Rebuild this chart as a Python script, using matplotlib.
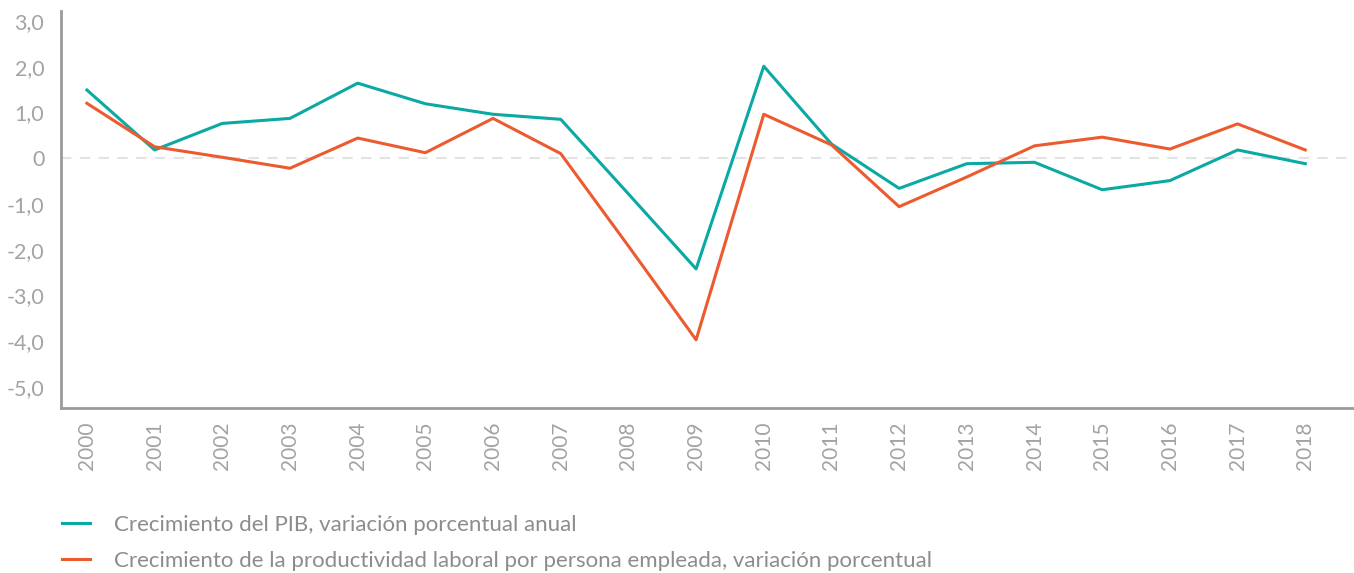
import numpy as np
import matplotlib.pyplot as plt
from matplotlib.lines import Line2D

years = list(range(2000, 2019))
pib = [1.49, 0.18, 0.76, 0.87, 1.64, 1.19, 0.96, 0.85, -0.78, -2.42,
       2.01, 0.31, -0.66, -0.12, -0.09, -0.69, -0.49, 0.18, -0.12]
productividad = [1.20, 0.25, 0.02, -0.22, 0.44, 0.12, 0.87, 0.10, -1.92, -3.97,
                 0.96, 0.29, -1.06, -0.41, 0.27, 0.46, 0.20, 0.75, 0.18]
yticks = [3, 2, 1, 0, -1, -2, -3, -4, -5]
ytick_labels = ["3,0", "2,0", "1,0", "0", "-1,0", "-2,0", "-3,0", "-4,0", "-5,0"]
legend_labels = ["Crecimiento del PIB, variación porcentual anual",
                 "Crecimiento de la productividad laboral por persona empleada, variación porcentual"]

teal = "#0aa9a3"
orange = "#ec5b30"
grey = "#a3a3a3"

plt.rcParams['font.family'] = ['Lato', 'DejaVu Sans']

fig = plt.figure(figsize=(13.54, 5.73), dpi=100)
ax = fig.add_axes([0.045, 0.288, 0.955, 0.693])

ax.axhline(0, color="#e3e3e3", lw=1.5, ls=(0, (5, 4)), zorder=1)
ax.plot(years, pib, color=teal, lw=2.2, zorder=3)
ax.plot(years, productividad, color=orange, lw=2.2, zorder=3)

ax.set_xlim(1999.616, 2018.72)
ax.set_ylim(-5.46, 3.22)
ax.set_xticks(years)
ax.set_xticklabels([str(y) for y in years], rotation=90, fontsize=15, color=grey)
ax.set_yticks(yticks)
ax.set_yticklabels(ytick_labels, fontsize=15.5, color=grey)
ax.tick_params(axis='both', length=0)
ax.tick_params(axis='x', pad=10)
ax.tick_params(axis='y', pad=12)

for s in ["top", "right"]:
    ax.spines[s].set_visible(False)
for s in ["left", "bottom"]:
    ax.spines[s].set_color("#9a9a9a")
    ax.spines[s].set_linewidth(2)

handles = [Line2D([], [], color=teal, lw=2.2), Line2D([], [], color=orange, lw=2.2)]
fig.legend(handles, legend_labels, loc="upper left", bbox_to_anchor=(0.039, 0.117),
           frameon=False, fontsize=16, labelcolor="#8c8c8c", handlelength=1.26,
           handletextpad=1.1, labelspacing=0.72, borderaxespad=0)

fig.savefig("out.png", dpi=100)
